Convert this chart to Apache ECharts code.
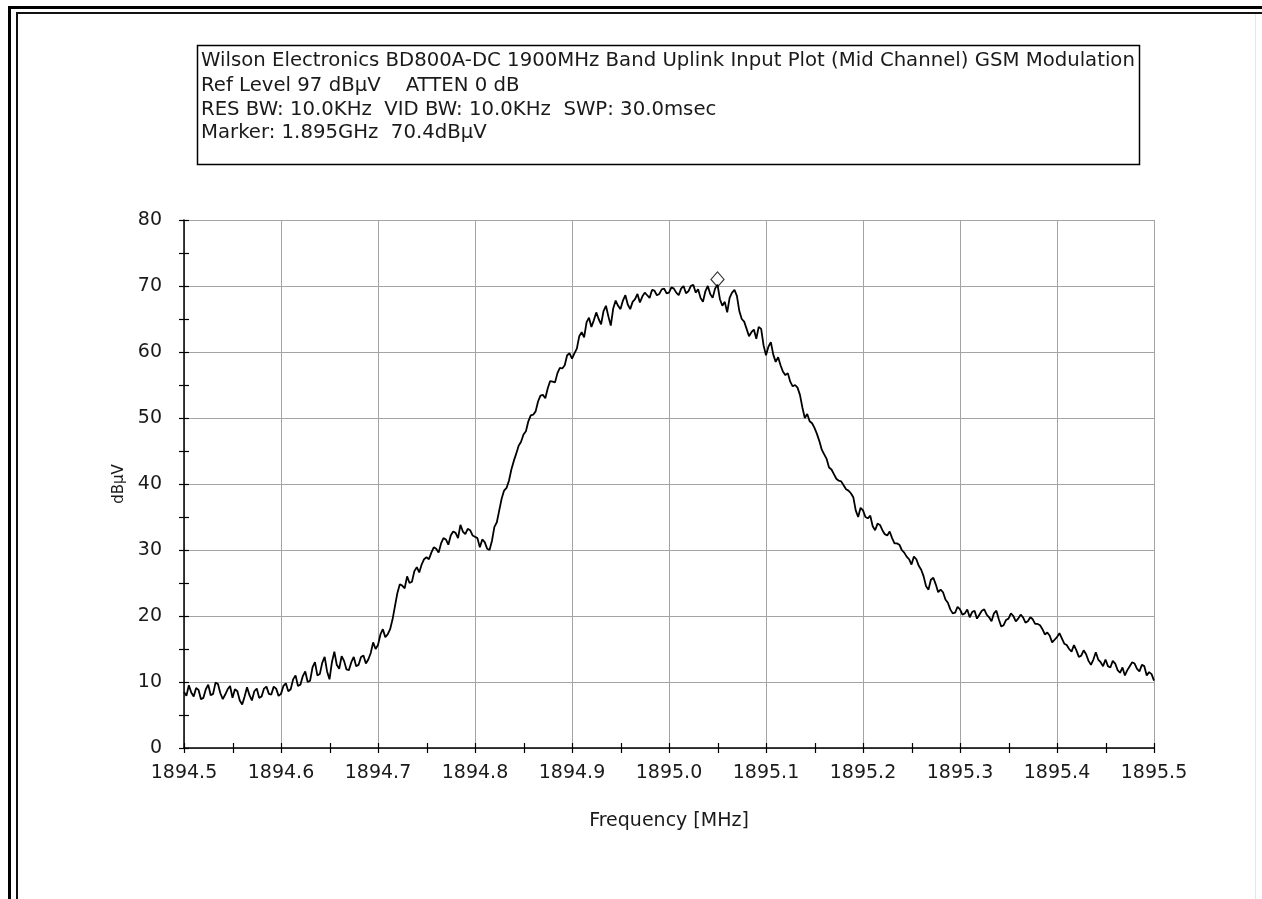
<!DOCTYPE html>
<html><head><meta charset="utf-8">
<script src="https://cdn.jsdelivr.net/npm/echarts@6/dist/echarts.min.js"></script>
<style>html,body{margin:0;padding:0;background:#fff}#c{width:1262px;height:899px}</style>
</head><body><div id="c"></div>
<script>
// ---- data ----
const freqStart = 1894.5;    // MHz, first sample
const freqStep = 0.0025;     // MHz between samples
const levels = [
  8.5, 7.9, 9.5, 8.4, 7.8, 9.1, 8.8, 7.4, 7.6, 8.9, 9.6, 8.0, 8.2, 9.9, 9.7, 8.3, 7.4, 8.1, 8.9, 9.4,
  7.6, 8.9, 8.6, 7.2, 6.6, 7.8, 9.2, 8.0, 7.2, 8.6, 9.0, 7.6, 7.8, 9.0, 9.3, 8.2, 8.1, 9.3, 9.0, 7.9,
  8.2, 9.4, 9.8, 8.6, 8.9, 10.4, 11.0, 9.4, 9.6, 10.9, 11.6, 10.0, 10.2, 12.2, 13.0, 11.0, 11.2, 12.9, 13.8, 11.6,
  10.4, 13.0, 14.6, 12.6, 12.0, 13.9, 13.2, 11.9, 11.8, 13.0, 13.8, 12.4, 12.6, 13.8, 14.0, 12.8, 13.4, 14.4, 16.0, 15.0,
  15.6, 17.2, 18.0, 16.8, 17.2, 18.0, 19.5, 21.5, 23.5, 24.8, 24.6, 24.2, 26.0, 25.0, 25.2, 26.8, 27.4, 26.6, 27.8, 28.6,
  28.9, 28.6, 29.6, 30.4, 30.2, 29.6, 31.0, 31.8, 31.6, 30.8, 32.2, 32.8, 32.6, 31.8, 33.8, 32.8, 32.4, 33.2, 33.0, 32.2,
  32.0, 31.8, 30.4, 31.6, 31.2, 30.2, 30.0, 31.4, 33.5, 34.2, 36.0, 37.8, 39.0, 39.4, 40.5, 42.2, 43.5, 44.6, 45.8, 46.4,
  47.5, 48.0, 49.5, 50.4, 50.5, 51.0, 52.5, 53.4, 53.5, 53.0, 54.5, 55.6, 55.5, 55.4, 56.8, 57.6, 57.5, 58.0, 59.5, 59.8,
  59.0, 59.8, 60.5, 62.4, 63.0, 62.2, 64.5, 65.2, 63.8, 64.8, 66.0, 65.0, 64.2, 66.2, 67.0, 65.4, 64.0, 66.6, 67.8, 67.0,
  66.5, 67.8, 68.6, 67.2, 66.5, 67.6, 68.0, 68.8, 67.5, 68.4, 69.0, 68.6, 68.2, 69.4, 69.3, 68.6, 68.8, 69.5, 69.6, 68.9,
  69.0, 69.8, 69.6, 69.0, 68.6, 69.6, 70.0, 68.9, 69.2, 70.0, 70.2, 69.0, 69.5, 68.2, 67.6, 69.2, 70.0, 68.8, 68.2, 69.6,
  70.2, 68.0, 67.0, 67.6, 66.0, 68.2, 69.0, 69.4, 68.5, 66.2, 65.0, 64.6, 63.5, 62.4, 63.0, 63.4, 62.0, 63.8, 63.5, 61.0,
  59.5, 60.8, 61.5, 59.6, 58.5, 59.2, 58.0, 57.0, 56.5, 56.8, 55.5, 54.8, 55.0, 54.6, 53.5, 51.6, 50.0, 50.6, 49.5, 49.2,
  48.5, 47.6, 46.5, 45.2, 44.5, 43.8, 42.5, 42.2, 41.5, 40.8, 40.5, 40.4, 39.8, 39.2, 39.0, 38.6, 38.0, 36.0, 35.0, 36.4,
  36.0, 35.0, 34.8, 35.2, 33.6, 33.0, 34.0, 33.8, 33.0, 32.4, 32.2, 32.8, 31.8, 31.0, 31.0, 30.8, 30.0, 29.6, 29.0, 28.6,
  27.8, 29.0, 28.6, 27.6, 27.0, 26.0, 24.5, 24.0, 25.5, 25.8, 24.8, 23.6, 24.0, 23.6, 22.5, 22.0, 21.0, 20.4, 20.5, 21.4,
  21.0, 20.2, 20.4, 21.0, 19.8, 20.6, 20.8, 19.6, 20.2, 20.8, 21.0, 20.2, 19.8, 19.2, 20.4, 20.8, 19.5, 18.4, 18.6, 19.4,
  19.6, 20.4, 20.0, 19.2, 19.6, 20.2, 19.8, 19.0, 19.2, 19.8, 19.5, 18.8, 18.8, 18.6, 18.0, 17.2, 17.5, 17.0, 16.0, 16.4,
  16.8, 17.4, 16.6, 15.8, 15.6, 15.0, 14.6, 15.6, 14.8, 13.8, 14.0, 14.8, 14.2, 13.2, 12.6, 13.4, 14.5, 13.4, 13.0, 12.4,
  13.4, 12.4, 12.2, 13.2, 12.8, 11.8, 11.4, 12.2, 11.0, 11.8, 12.4, 13.0, 12.8, 12.0, 11.6, 12.6, 12.4, 11.0, 11.5, 11.2,
  10.2
];
const markerPoint = [1895.05, 71.0];
// tick positions (major + minor) for the ticks that cross the axis lines
const xTickValues = [1894.5, 1894.55, 1894.6, 1894.65, 1894.7, 1894.75, 1894.8, 1894.85, 1894.9, 1894.95,
  1895.0, 1895.05, 1895.1, 1895.15, 1895.2, 1895.25, 1895.3, 1895.35, 1895.4, 1895.45, 1895.5];
const yTickValues = [0, 5, 10, 15, 20, 25, 30, 35, 40, 45, 50, 55, 60, 65, 70, 75, 80];
const titleLines = [
  'Wilson Electronics BD800A-DC 1900MHz Band Uplink Input Plot (Mid Channel) GSM Modulation',
  'Ref Level 97 dB\u00b5V    ATTEN 0 dB',
  'RES BW: 10.0KHz  VID BW: 10.0KHz  SWP: 30.0msec',
  'Marker: 1.895GHz  70.4dB\u00b5V'
];
const xName = 'Frequency [MHz]';
const yName = 'dB\u00b5V';

// ---- chart ----
const FONT = 'DejaVu Sans';
const cv = document.createElement('canvas').getContext('2d');
cv.font = '19px "' + FONT + '"';
const w1 = cv.measureText(titleLines[0]).width;
const titleSize = 19 * 934 / w1;

const chart = echarts.init(document.getElementById('c'), null, {renderer: 'canvas'});
const seriesData = levels.map((v, i) => [freqStart + i * freqStep, v]);

const labelStyle = {color: '#1a1a1a', fontFamily: FONT, fontSize: 19};
const X_MIN = 1894.5, X_MAX = 1895.5, X_INT = 0.1;
const Y_MIN = 0, Y_MAX = 80, Y_INT = 10;
const TICK = 5;

const graphics = [
  {type: 'rect', shape: {x: 8, y: 6, width: 1254, height: 3}, style: {fill: '#000'}, silent: true},
  {type: 'rect', shape: {x: 8, y: 6, width: 3, height: 893}, style: {fill: '#000'}, silent: true},
  {type: 'rect', shape: {x: 16, y: 12, width: 1246, height: 2}, style: {fill: '#111'}, silent: true},
  {type: 'rect', shape: {x: 16, y: 12, width: 2, height: 887}, style: {fill: '#111'}, silent: true},
  {type: 'rect', shape: {x: 1255, y: 14, width: 1, height: 885}, style: {fill: '#e6e6e6'}, silent: true},
  {type: 'rect', shape: {x: 197.5, y: 45.5, width: 942, height: 119}, style: {fill: '#fff', stroke: '#000', lineWidth: 1.5}, silent: true}
];
const lineY = [61, 86, 110, 133];
titleLines.forEach((t, i) => {
  graphics.push({type: 'text', x: 201, y: lineY[i], silent: true,
    style: {text: t, fill: '#1a1a1a', font: titleSize.toFixed(2) + 'px "' + FONT + '"', verticalAlign: 'middle', align: 'left'}});
});

chart.setOption({
  animation: false,
  backgroundColor: '#fff',
  grid: {left: 184, right: 108, top: 220, bottom: 151, containLabel: false},
  graphic: graphics,
  xAxis: {
    type: 'value', min: X_MIN, max: X_MAX, interval: X_INT, position: 'bottom',
    name: xName, nameLocation: 'middle', nameGap: 64,
    nameTextStyle: {color: '#1a1a1a', fontFamily: FONT, fontSize: 19},
    axisLine: {show: true, onZero: false, lineStyle: {color: '#000', width: 1.5}},
    axisTick: {show: false},
    axisLabel: Object.assign({margin: 16, formatter: v => v.toFixed(1), showMinLabel: true, showMaxLabel: true}, labelStyle),
    splitLine: {show: true, lineStyle: {color: '#a4a4a4', width: 1}}
  },
  yAxis: {
    type: 'value', min: Y_MIN, max: Y_MAX, interval: Y_INT, position: 'left',
    name: yName, nameLocation: 'middle', nameGap: 56, nameRotate: 90,
    nameTextStyle: {color: '#1a1a1a', fontFamily: FONT, fontSize: 15},
    axisLine: {show: true, onZero: false, lineStyle: {color: '#000', width: 1.5}},
    axisTick: {show: false},
    axisLabel: Object.assign({margin: 22}, labelStyle),
    splitLine: {show: true, lineStyle: {color: '#a4a4a4', width: 1}}
  },
  series: [
    {type: 'line', data: seriesData, showSymbol: false,
     lineStyle: {color: '#000', width: 1.8}, z: 5, silent: true},
    {type: 'scatter', data: [markerPoint], symbol: 'diamond',
     symbolSize: [13, 15], itemStyle: {color: 'rgba(255,255,255,0)', borderColor: '#000', borderWidth: 1.2}, z: 6, silent: true}
  ]
});

// crossing ticks, positioned through the chart's own scales
const tickGraphics = [];
xTickValues.forEach(v => {
  const p = chart.convertToPixel({gridIndex: 0}, [v, Y_MIN]);
  const x = Math.round(p[0]) + 0.5;
  tickGraphics.push({type: 'line', silent: true, z: 10,
    shape: {x1: x, y1: p[1] - TICK, x2: x, y2: p[1] + TICK},
    style: {stroke: '#000', lineWidth: 1.2}});
});
yTickValues.forEach(v => {
  const p = chart.convertToPixel({gridIndex: 0}, [X_MIN, v]);
  const y = Math.round(p[1]) + 0.5;
  tickGraphics.push({type: 'line', silent: true, z: 10,
    shape: {x1: p[0] - TICK, y1: y, x2: p[0] + TICK, y2: y},
    style: {stroke: '#000', lineWidth: 1.2}});
});
chart.setOption({graphic: graphics.concat(tickGraphics)});
</script></body></html>
